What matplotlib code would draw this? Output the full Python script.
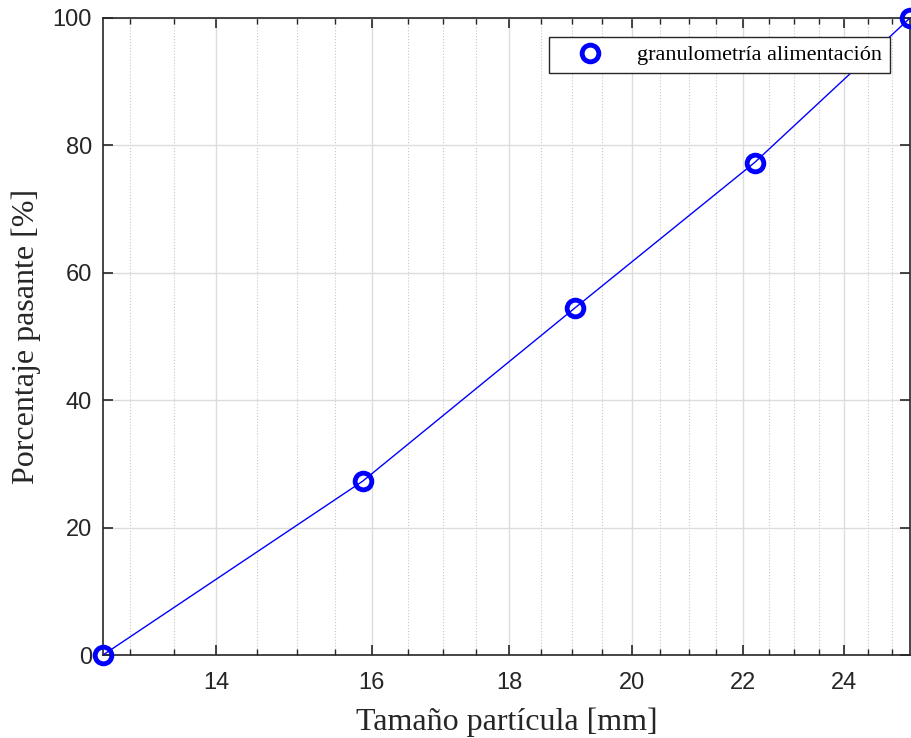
import numpy as np
import matplotlib.pyplot as plt
from matplotlib.ticker import FixedLocator, NullFormatter, FixedFormatter

# data
tamano_mm = [12.7, 15.875, 19.05, 22.225, 25.4]
pasante = [0.0, 27.3, 54.5, 77.3, 100.0]

major_x = [14, 16, 18, 20, 22, 24]
minor_x = [v for v in np.arange(13, 25.5, 0.5) if v not in major_x]

fig = plt.figure(figsize=(9.12, 7.38), dpi=100)
ax = fig.add_axes([103 / 912, 1 - 655 / 738, (910 - 103) / 912, (655 - 18) / 738])

ax.plot(tamano_mm, pasante, '-', color='blue', lw=1.0, zorder=3)
ax.plot(tamano_mm, pasante, 'o', mfc='none', mec='blue', mew=3.5, ms=12,
        label='granulometría alimentación', zorder=4, clip_on=False)

ax.set_xscale('log')
ax.set_xlim(12.7, 25.4)
ax.set_ylim(0, 100)

ax.xaxis.set_major_locator(FixedLocator(major_x))
ax.xaxis.set_major_formatter(FixedFormatter([str(v) for v in major_x]))
ax.xaxis.set_minor_locator(FixedLocator(minor_x))
ax.xaxis.set_minor_formatter(NullFormatter())
ax.set_yticks([0, 20, 40, 60, 80, 100])

ax.grid(True, which='major', color='#dcdcdc', lw=1.0, ls='-')
ax.grid(True, which='minor', axis='x', color='#c8c8c8', lw=0.8, ls=':')
ax.set_axisbelow(True)

ax.tick_params(which='both', direction='in', top=True, right=True,
               colors='#262626', labelsize=17, labelcolor='#262626')
ax.tick_params(which='major', length=7, width=1.2)
ax.tick_params(which='minor', length=4, width=1.0)
for lbl in ax.get_xticklabels() + ax.get_yticklabels():
    lbl.set_family('Liberation Sans')
ax.tick_params(axis='x', pad=12)
ax.tick_params(axis='y', pad=8)
for s in ax.spines.values():
    s.set_color('#262626')
    s.set_linewidth(1.2)

ax.set_xlabel('Tamaño partícula [mm]', family='Liberation Serif', fontsize=23,
              color='#262626', labelpad=10)
ax.set_ylabel('Porcentaje pasante [%]', family='Liberation Serif', fontsize=23,
              color='#262626', labelpad=8)

leg = ax.legend(loc='upper right', bbox_to_anchor=(0.975, 0.97),
                borderaxespad=0,
                prop={'family': 'Liberation Serif', 'size': 16},
                fancybox=False, framealpha=1, edgecolor='#262626',
                handletextpad=0.63, borderpad=0.35, handlelength=3.0)
leg.get_frame().set_linewidth(1.0)

fig.savefig('out.png', dpi=100)
